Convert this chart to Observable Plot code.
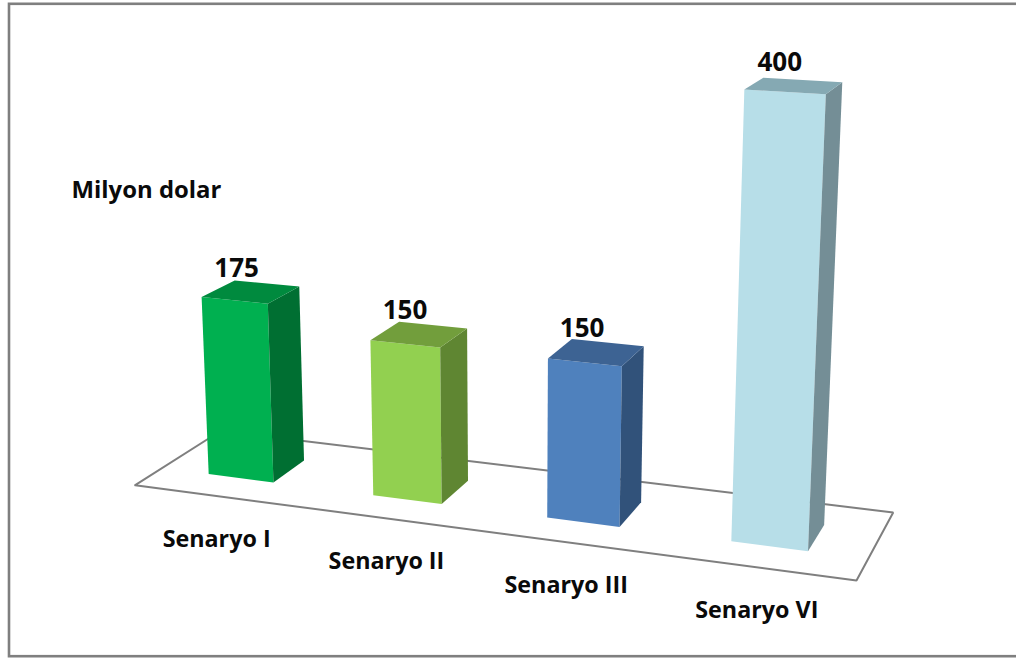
<!DOCTYPE html>
<html>
<head>
<meta charset="utf-8">
<script src="https://cdn.jsdelivr.net/npm/d3@7"></script>
<script src="https://cdn.jsdelivr.net/npm/@observablehq/plot@0.6"></script>
<style>
html,body{margin:0;padding:0;background:#fff;}
svg{display:block;}
</style>
</head>
<body>
<div id="chart"></div>
<script>
// Data
const categories = ["Senaryo I", "Senaryo II", "Senaryo III", "Senaryo VI"];
const values = [175, 150, 150, 400];
const yAxisNote = "Milyon dolar";

// Styles
const frontColors = ["#00B050", "#92D050", "#4F81BD", "#B7DEE8"];
const topColors   = ["#008A3E", "#729E3C", "#3D6393", "#85A9B3"];
const sideColors  = ["#006F32", "#5F8632", "#31527A", "#748E96"];
const INK = "#0a0a0a", RULE = "#7f7f7f";
const FONT = "'Open Sans', sans-serif";

// Camera: floor corners (front-left, front-right, back-right, back-left) on the
// page, and the vanishing point of the vertical axis.
const floor = [[134.7, 484.7], [856, 580], [892.7, 512], [220, 430.5]];
const vanish = [513, 8100];
const perUnit = -0.0001316;
const [[x0, y0], [x1, y1], [x2, y2], [x3, y3]] = floor;
const dx1 = x1 - x2, dx2 = x3 - x2, sx = x0 - x1 + x2 - x3;
const dy1 = y1 - y2, dy2 = y3 - y2, sy = y0 - y1 + y2 - y3;
const den = dx1 * dy2 - dx2 * dy1;
const g = (sx * dy2 - dx2 * sy) / den;
const h = (dx1 * sy - sx * dy1) / den;
const a = x1 - x0 + g * x1, b = x3 - x0 + h * x3;
const d = y1 - y0 + g * y1, e = y3 - y0 + h * y3;
function project(u, v, value) {
  const t = perUnit * value;
  const w = g * u + h * v + 1 + t;
  return [(a * u + b * v + x0 + vanish[0] * t) / w,
          (d * u + e * v + y0 + vanish[1] * t) / w];
}

// Bar footprint on the floor, in floor units
const barWidth = 0.1, vFront = 0.3, vBack = 0.69, barShift = -0.0018;
const centre = i => (i + 0.5) / categories.length;

const faces = [];
function addFace(id, color, corners) {
  for (const [u, v, val] of corners) {
    const [x, y] = project(u, v, val);
    faces.push({id, color, x, y});
  }
}
values.forEach((val, i) => {
  const l = centre(i) + barShift - barWidth / 2, r = centre(i) + barShift + barWidth / 2;
  addFace(`front${i}`, frontColors[i], [[l, vFront, 0], [r, vFront, 0], [r, vFront, val], [l, vFront, val]]);
  addFace(`side${i}`, sideColors[i], [[r, vFront, 0], [r, vBack, 0], [r, vBack, val], [r, vFront, val]]);
  addFace(`top${i}`, topColors[i], [[l, vFront, val], [r, vFront, val], [r, vBack, val], [l, vBack, val]]);
});

const floorPath = [...floor, floor[0]].map(([x, y]) => ({x, y}));
const valueLabels = values.map((val, i) => {
  const [x, y] = project(centre(i), (vFront + vBack) / 2, val);
  return {x, y, text: String(val)};
});
const categoryLabels = categories.map((text, i) => {
  const [x, y] = project(centre(i), 0, 0);
  return {x, y, text};
});

const chart = Plot.plot({
  width: 1016,
  height: 662,
  margin: 0,
  style: {background: "#fff", fontFamily: FONT},
  x: {domain: [0, 1016], range: [0, 1016], axis: null},
  y: {domain: [0, 662], range: [0, 662], axis: null},
  color: {type: "identity"},
  marks: [
    Plot.frame({stroke: RULE, strokeWidth: 2.6, insetLeft: 8.5, insetTop: 3.3, insetBottom: 6.3, insetRight: -4}),
    Plot.line(floorPath, {x: "x", y: "y", stroke: RULE, strokeWidth: 2, strokeLinejoin: "miter"}),
    Plot.line(faces, {x: "x", y: "y", z: "id", fill: "color", stroke: null}),
    Plot.text(valueLabels, {x: "x", y: "y", text: "text", dx: -15.5, dy: -23.5, fontSize: 26, fontWeight: 700, fill: INK, fontFamily: FONT}),
    Plot.text(categoryLabels, {x: "x", y: "y", text: "text", dy: 43.5, fontSize: 23.3, fontWeight: 700, fill: INK, fontFamily: FONT}),
    Plot.text([yAxisNote], {frameAnchor: "top-left", dx: 71, dy: 181, textAnchor: "start", lineAnchor: "top", fontSize: 23.9, fontWeight: 700, fill: INK, fontFamily: FONT})
  ]
});
document.getElementById("chart").append(chart);
</script>
</body>
</html>
